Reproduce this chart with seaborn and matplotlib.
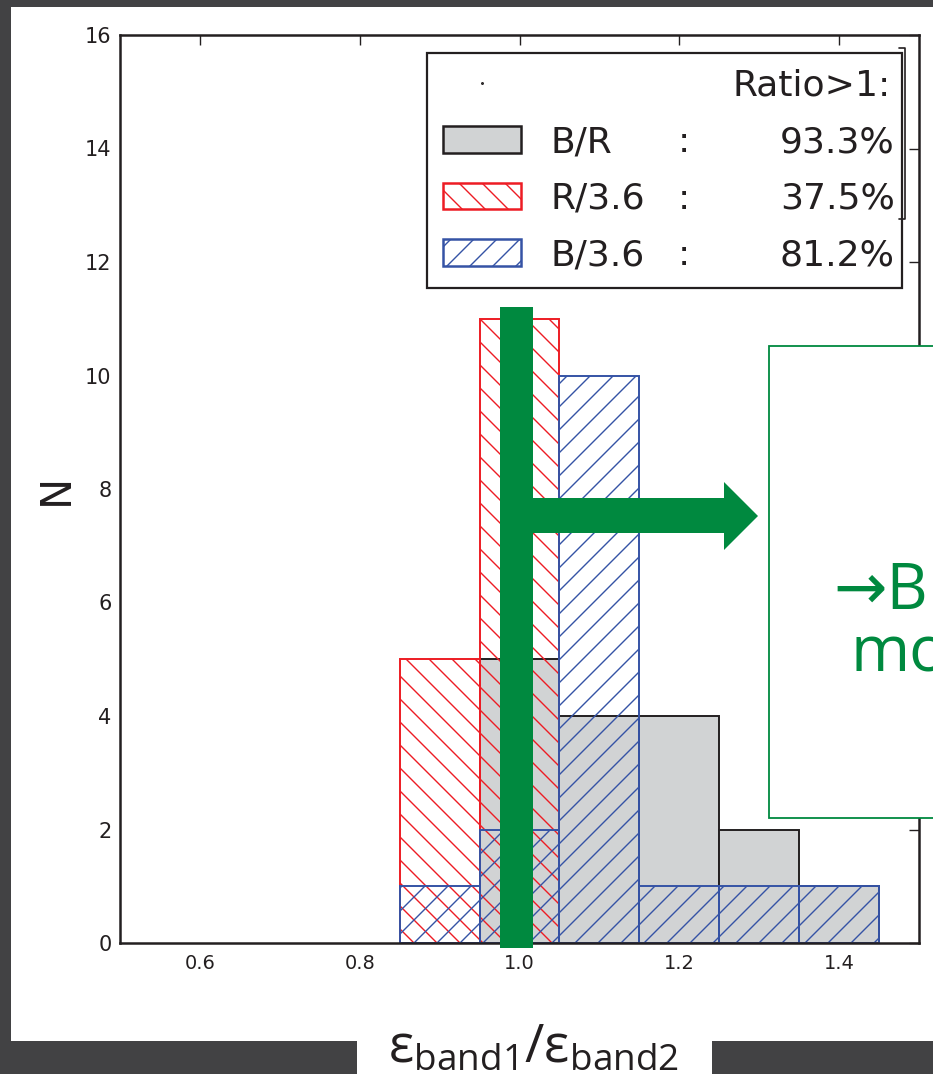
import numpy as np
import matplotlib
matplotlib.use("Agg")
import matplotlib.pyplot as plt
import seaborn as sns
from matplotlib.patches import Rectangle, Polygon, Patch
from matplotlib.lines import Line2D

# histogram bins and counts
bin_edges = [0.85, 0.95, 1.05, 1.15, 1.25, 1.35, 1.45]
bin_centers = [0.90, 1.00, 1.10, 1.20, 1.30, 1.40]
counts_BR = [0, 5, 4, 4, 2, 1]
counts_R36 = [5, 11, 0, 0, 0, 0]
counts_B36 = [1, 2, 10, 1, 1, 1]

series_names = ["B/R", "R/3.6", "B/3.6"]
ratio_gt1 = ["93.3%", "37.5%", "81.2%"]

GRAY = "#d1d3d4"
INK = "#231f20"
RED = "#ed1c24"
BLUE = "#3553a5"
GREEN = "#00893f"
BG = "#424244"

# higher dpi so the hatch lines come out as sparse as in the picture;
# sizes below are given as if at 100 dpi and scaled with S
DPI = 138
S = 100 / DPI

sns.set_style("white")
plt.rcParams["font.family"] = ["DejaVu Sans"]
plt.rcParams["hatch.linewidth"] = 1.0 * S
plt.rcParams["mathtext.fontset"] = "custom"
plt.rcParams["mathtext.rm"] = "Open Sans"

W, H = 933, 1074
fig = plt.figure(figsize=(W / DPI, H / DPI), dpi=DPI, facecolor=BG)


def fx(x):
    return x / W


def fy(y):
    return 1 - y / H


# white slide panel and the white box behind the x label
fig.patches.append(Rectangle((fx(11), fy(1041)), 1 - fx(11), fy(7) - fy(1041),
                             transform=fig.transFigure, facecolor="white",
                             edgecolor="none", zorder=-5))
fig.patches.append(Rectangle((fx(357), 0), fx(712) - fx(357), fy(1030),
                             transform=fig.transFigure, facecolor="white",
                             edgecolor="none", zorder=-5))

ax = fig.add_axes([fx(120), fy(943), fx(919) - fx(120), fy(35) - fy(943)])
ax.set_facecolor("none")

sns.histplot(x=bin_centers, weights=counts_BR, bins=bin_edges, ax=ax,
             color=GRAY, alpha=1, edgecolor=INK, linewidth=1.4 * S)
sns.histplot(x=bin_centers, weights=counts_R36, bins=bin_edges, ax=ax,
             color=RED, fill=False, hatch="\\\\", linewidth=1.4 * S)
sns.histplot(x=bin_centers, weights=counts_B36, bins=bin_edges, ax=ax,
             color=BLUE, fill=False, hatch="//", linewidth=1.4 * S)

ax.set_xlim(0.5, 1.5)
ax.set_ylim(0, 16)
ax.set_xticks([0.6, 0.8, 1.0, 1.2, 1.4])
ax.set_yticks(range(0, 17, 2))
ax.tick_params(direction="in", length=7 * S, width=1 * S, top=True, right=True,
               colors=INK, labelcolor=INK)
ax.tick_params(axis="x", labelsize=14 * S, pad=8 * S)
ax.tick_params(axis="y", labelsize=15 * S, pad=6 * S)
for s in ax.spines.values():
    s.set_visible(True)
    s.set_color(INK)
    s.set_linewidth(1.8 * S)

ax.set_xlabel("")
ax.set_ylabel("N", fontsize=30 * S, color=INK)
ax.yaxis.set_label_coords(-0.054, 0.5)

# legend
handles = [
    Line2D([], [], color=INK, marker=".", markersize=1.5 * S, linestyle="none"),
    Patch(facecolor=GRAY, edgecolor=INK, linewidth=1.8 * S),
    Patch(facecolor="none", edgecolor=RED, hatch="\\\\", linewidth=1.8 * S),
    Patch(facecolor="none", edgecolor=BLUE, hatch="//", linewidth=1.8 * S),
]
labels = [""] + series_names
x0 = (427 - 120) / 799
top = (943 - 53) / 908
leg = ax.legend(handles, labels, loc="upper left", mode="expand",
                bbox_to_anchor=(x0, 0, (902 - 427) / 799, top),
                borderaxespad=0, fontsize=26 * S, handlelength=2.15,
                handleheight=0.75, handletextpad=0.82, labelspacing=0.62,
                borderpad=0.44, fancybox=False, framealpha=1)
leg.get_frame().set_edgecolor(INK)
leg.get_frame().set_linewidth(1.6 * S)
for t in leg.get_texts():
    t.set_color(INK)

fig.canvas.draw()
inv = fig.transFigure.inverted()
rows = leg.get_texts()
for i, t in enumerate(rows):
    bx, by = t.get_transform().transform(t.get_position())
    yb = inv.transform((bx, by))[1]
    if i == 0:
        fig.text(fx(891), yb, "Ratio>1:", ha="right", va="baseline",
                 fontsize=26 * S, color=INK, zorder=10)
    else:
        fig.text(fx(684), yb, ":", ha="center", va="baseline",
                 fontsize=26 * S, color=INK, zorder=10)
        fig.text(fx(895), yb, ratio_gt1[i - 1], ha="right", va="baseline",
                 fontsize=26 * S, color=INK, zorder=10)

# small bracket at the right of the legend
fig.lines.append(Line2D([fx(899), fx(905), fx(905), fx(899)],
                        [fy(48), fy(48), fy(219), fy(219)],
                        transform=fig.transFigure, color=INK, lw=1.2 * S, zorder=9))

# green overlay: vertical bar at ratio 1 and arrow to the right
fig.patches.append(Rectangle((fx(500), fy(948)), fx(533) - fx(500), fy(307) - fy(948),
                             transform=fig.transFigure, facecolor=GREEN,
                             edgecolor="none", zorder=20))
arrow = [(533, 498), (724, 498), (724, 482), (758, 516), (724, 550), (724, 533), (533, 533)]
fig.patches.append(Polygon([(fx(a), fy(b)) for a, b in arrow], closed=True,
                           transform=fig.transFigure, facecolor=GREEN,
                           edgecolor="none", zorder=20))
fig.patches.append(Rectangle((fx(769), fy(818)), 1, fy(346) - fy(818),
                             transform=fig.transFigure, facecolor="white",
                             edgecolor=GREEN, linewidth=1.3 * S, zorder=20))
fig.text(fx(833), fy(609), "\u2192B", fontsize=46 * S, color=GREEN, ha="left",
         va="baseline", family=["Open Sans", "DejaVu Sans"], zorder=21)
fig.text(fx(851), fy(672), "mo", fontsize=46 * S, color=GREEN, ha="left",
         va="baseline", family=["Open Sans", "DejaVu Sans"], zorder=21)

# x label
fig.text(fx(534), fy(1062), "$\\mathrm{\u03b5_{band1}/\u03b5_{band2}}$",
         fontsize=38 * S, color=INK, ha="center", va="baseline", zorder=5)

fig.savefig("out.png", dpi=DPI, facecolor=BG)
